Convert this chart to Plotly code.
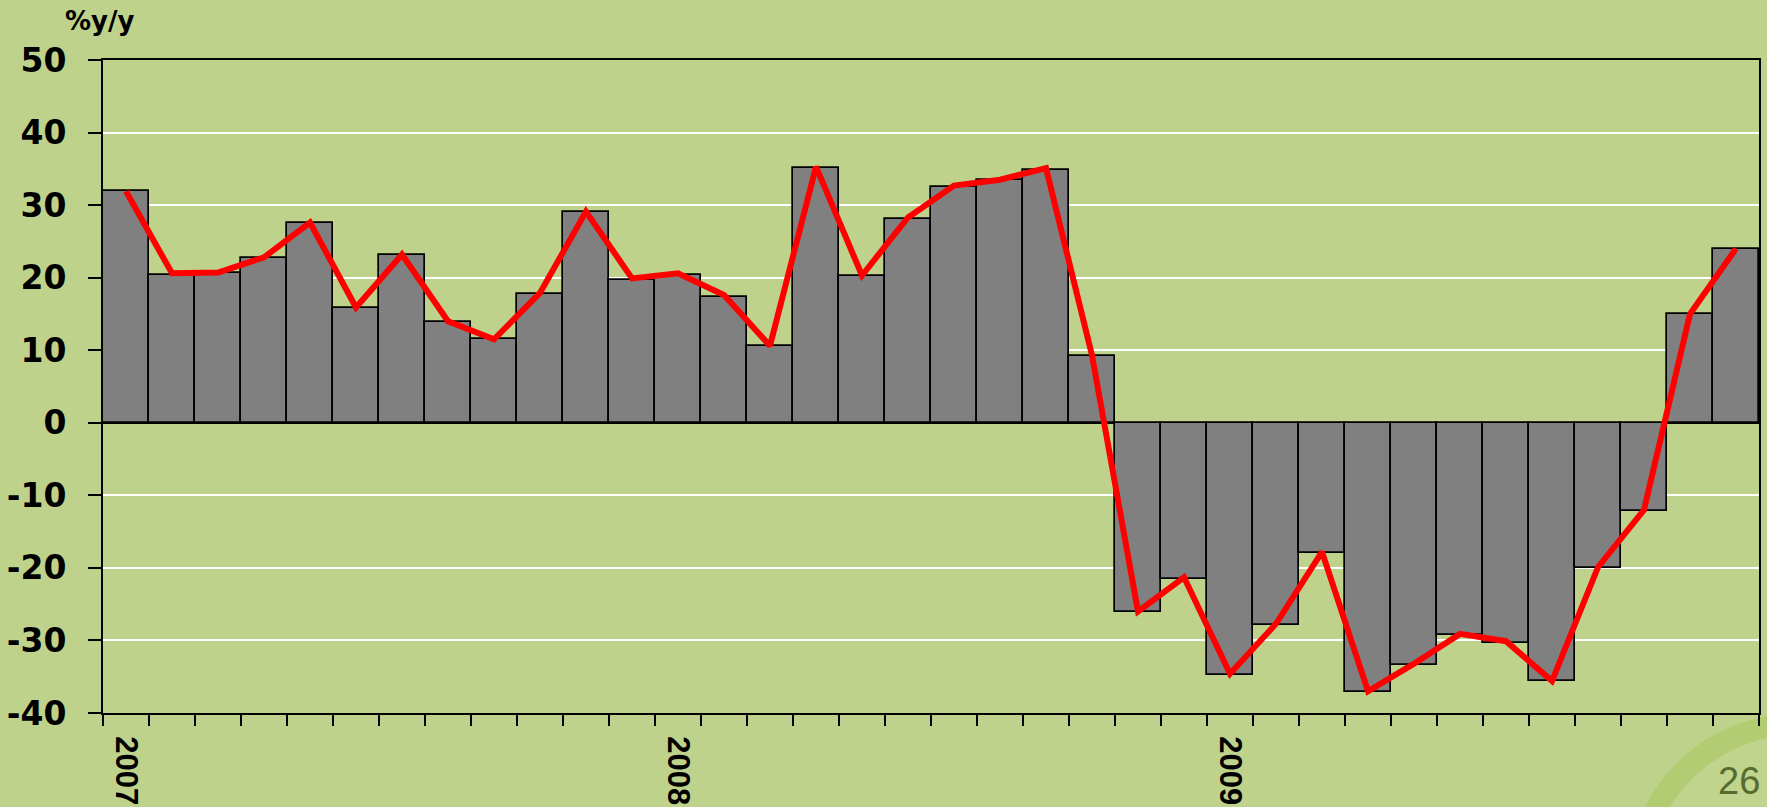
import plotly.graph_objects as go

# ---- data ----
years = ["2007", "2008", "2009"]
months = [f"{y}-{m:02d}" for y in years for m in range(1, 13)]

bar_values = [31.9, 20.4, 20.6, 22.7, 27.5, 15.8, 23.1, 13.9, 11.5, 17.8, 29.0, 19.7,
              20.4, 17.3, 10.6, 35.1, 20.2, 28.1, 32.5, 33.4, 34.9, 9.2, -26.1, -21.5,
              -34.7, -27.9, -18.0, -37.1, -33.4, -29.2, -30.3, -35.6, -20.0, -12.1, 15.0, 24.0]

line_values = [31.9, 20.6, 20.7, 22.8, 27.6, 15.9, 23.2, 14.0, 11.5, 17.9, 29.1, 19.9,
               20.6, 17.6, 10.6, 35.3, 20.3, 28.3, 32.7, 33.5, 35.1, 9.3, -26.0, -21.3,
               -34.6, -27.7, -17.8, -37.0, -33.2, -29.1, -30.1, -35.6, -19.9, -12.0, 15.0, 24.0]

y_ticks = [-40, -30, -20, -10, 0, 10, 20, 30, 40, 50]
y_ticktext = ["-40", "-30", "-20", "-10", "0", "10", "20", "30", "40", "50"]

y_label = "%y/y"
page_number = "26"

x_idx = list(range(len(months)))
year_ticks = [months.index(f"{y}-01") for y in years]

BG = "#BFD28B"

fig = go.Figure()
fig.add_trace(go.Bar(
    x=x_idx, y=bar_values,
    marker=dict(color="#808080", line=dict(color="black", width=1.7)),
    width=1.0, showlegend=False, hoverinfo="skip",
))
fig.add_trace(go.Scatter(
    x=x_idx, y=line_values, mode="lines",
    line=dict(color="#FF0000", width=6),
    showlegend=False, hoverinfo="skip",
))

W, H = 1767, 807
L, R, T, B = 103, 8, 60, 94
pw, ph = W - L - R, H - T - B


def px_x(px):
    return (px - L) / pw


def px_y(py):
    return (H - B - py) / ph


fig.update_layout(
    width=W, height=H,
    margin=dict(l=L, r=R, t=T, b=B, pad=0, autoexpand=False),
    paper_bgcolor=BG, plot_bgcolor=BG,
    bargap=0,
    font=dict(family="Liberation Sans, Arial, sans-serif", color="black"),
    xaxis=dict(
        range=[-0.5, len(months) - 0.5],
        tickmode="array", tickvals=year_ticks, ticktext=years,
        tickangle=90, ticks="", ticklen=0,
        tickfont=dict(family="Liberation Sans, Arial", size=31, weight="bold", color="black"),
        ticklabelstandoff=15, automargin=False,
        showgrid=False, zeroline=False,
        showline=True, linecolor="black", linewidth=2, mirror=True,
        minor=dict(tickmode="linear", tick0=-0.5, dtick=1, ticks="outside",
                   ticklen=11, tickwidth=2, tickcolor="black", showgrid=False),
    ),
    yaxis=dict(
        range=[-40, 50], tickmode="array", tickvals=y_ticks, ticktext=y_ticktext,
        ticks="outside", ticklen=13, tickwidth=2, tickcolor="black",
        tickfont=dict(family="DejaVu Sans", size=33, weight="bold", color="black"),
        ticklabelstandoff=15, automargin=False,
        showgrid=True, gridcolor="white", gridwidth=1.5,
        zeroline=True, zerolinecolor="black", zerolinewidth=2,
        showline=True, linecolor="black", linewidth=2, mirror=True,
    ),
    shapes=[
        dict(type="circle", xref="paper", yref="paper", layer="below",
             x0=px_x(1638), x1=px_x(1960), y0=px_y(1040), y1=px_y(724),
             line=dict(color="rgba(172,201,104,0.7)", width=22),
             fillcolor="rgba(200,218,150,0.3)"),
    ],
    annotations=[
        dict(text=y_label, xref="paper", yref="paper", x=px_x(63), y=px_y(21),
             xanchor="left", yanchor="middle", showarrow=False,
             font=dict(family="DejaVu Sans", size=26, weight="bold", color="black")),
        dict(text=page_number, xref="paper", yref="paper", x=px_x(1762), y=px_y(758),
             xanchor="right", yanchor="top", showarrow=False,
             font=dict(family="Liberation Sans", size=38, color="#556B2F")),
    ],
)

fig.write_html(
    "out.html",
    config={"displayModeBar": False},
    post_script="document.body.style.margin='0';document.body.style.padding='0';"
                "document.body.style.overflow='hidden';",
)
